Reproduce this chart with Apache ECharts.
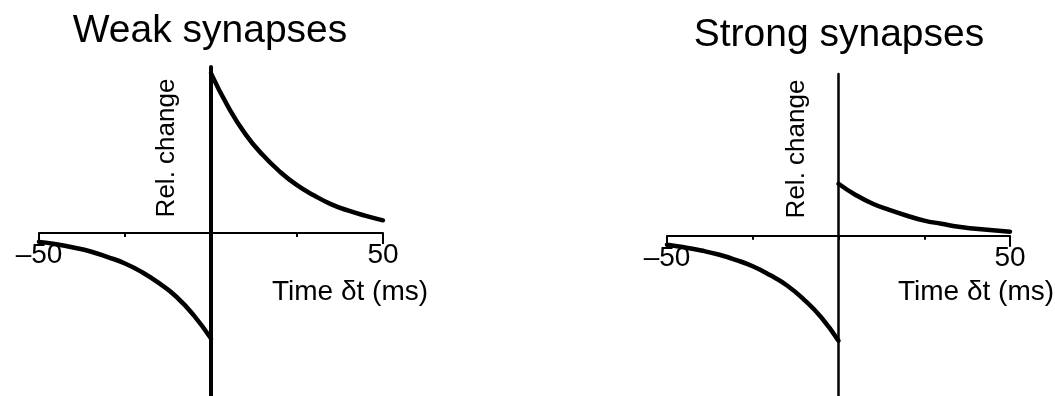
<!DOCTYPE html>
<html>
<head>
<meta charset="utf-8">
<script src="https://cdn.jsdelivr.net/npm/echarts@6/dist/echarts.min.js"></script>
<style>
html,body{margin:0;padding:0;background:#fff}
#main{width:1055px;height:396px}
</style>
</head>
<body>
<div id="main"></div>
<script>
// spike timing dt (ms)
var dtPre = [-50, -45, -40, -35, -30, -25, -20, -15, -10, -5, 0];
var dtPost = [0, 5, 10, 15, 20, 25, 30, 35, 40, 45, 50];

// relative change (1 = weak LTP peak)
var weakDep = [-0.055, -0.07, -0.09, -0.115, -0.15, -0.19, -0.245, -0.315, -0.40, -0.515, -0.66];
var weakPot = [1.0, 0.79, 0.62, 0.49, 0.385, 0.30, 0.235, 0.18, 0.14, 0.108, 0.08];
var strongDep = [-0.056, -0.072, -0.092, -0.117, -0.15, -0.19, -0.245, -0.31, -0.40, -0.51, -0.655];
var strongPot = [0.325, 0.255, 0.20, 0.16, 0.125, 0.095, 0.075, 0.056, 0.044, 0.034, 0.026];

var panelTitles = ['Weak synapses', 'Strong synapses'];
var xTickValues = [-50, 50];
var xTickLabels = ['\u201350', '50'];
var yName = 'Rel. change';
var xName = 'Time \u03b4t (ms)';

var FONT = '"Liberation Sans", Arial, Helvetica, sans-serif';
var H = 396;

function zip(xs, ys) {
    var out = [];
    for (var i = 0; i < xs.length; i++) out.push([xs[i], ys[i]]);
    return out;
}

// layout of the two panels
var panels = [
    {left: 39, width: 344, top: 67, ymin: -1.02, ymax: 1.04, vWidth: 4, dep: weakDep, pot: weakPot,
     titleX: 210, titleY: 12, yNameX: 167, yNameY: 148, xNameX: 272},
    {left: 667, width: 343, top: 74, ymin: -1.0, ymax: 1.01, vWidth: 2.5, dep: strongDep, pot: strongPot,
     titleX: 839, titleY: 16, yNameX: 797, yNameY: 149, xNameX: 898}
];

var grid = [], xAxis = [], yAxis = [], series = [], graphic = [];

panels.forEach(function (p, i) {
    var plotH = H - p.top;
    var zeroY = p.top + plotH * p.ymax / (p.ymax - p.ymin);
    var g = grid.length;
    // full plot area: curves, vertical axis, time axis line at zero
    grid.push({left: p.left, width: p.width, top: p.top, bottom: 0, outerBoundsMode: 'none'});
    // upper part, its bottom edge sits on zero: carries ticks and tick labels
    grid.push({left: p.left, width: p.width, top: p.top, bottom: H - zeroY, outerBoundsMode: 'none'});

    var xMain = xAxis.length;
    xAxis.push({
        type: 'value', gridIndex: g, min: -50, max: 50, interval: 25,
        axisLine: {onZero: true, lineStyle: {color: '#000', width: 2}},
        axisTick: {show: false},
        axisLabel: {show: false},
        splitLine: {show: false}
    });
    xAxis.push({
        type: 'value', gridIndex: g + 1, position: 'bottom', min: -50, max: 50, interval: 25,
        axisLine: {show: false, onZero: false},
        axisTick: {show: true, length: 4, lineStyle: {color: '#000', width: 2}},
        axisLabel: {
            margin: 8, color: '#000', fontSize: 28, fontFamily: FONT,
            formatter: function (v) {
                var k = xTickValues.indexOf(v);
                return k < 0 ? '' : xTickLabels[k];
            }
        },
        splitLine: {show: false}
    });
    // long end ticks at -50 / 50
    xAxis.push({
        type: 'value', gridIndex: g + 1, position: 'bottom', min: -50, max: 50, interval: 100,
        axisLine: {show: false, onZero: false},
        axisTick: {show: true, length: 11, lineStyle: {color: '#000', width: 2}},
        axisLabel: {show: false},
        splitLine: {show: false}
    });

    var yMain = yAxis.length;
    yAxis.push({
        type: 'value', gridIndex: g, min: p.ymin, max: p.ymax,
        axisLine: {show: true, onZero: true, lineStyle: {color: '#000', width: p.vWidth}},
        axisTick: {show: false},
        axisLabel: {show: false},
        splitLine: {show: false}
    });
    yAxis.push({
        type: 'value', gridIndex: g + 1, min: 0, max: p.ymax, show: false
    });

    [p.dep, p.pot].forEach(function (vals, j) {
        series.push({
            type: 'line',
            xAxisIndex: xMain, yAxisIndex: yMain,
            data: zip(j === 0 ? dtPre : dtPost, vals),
            smooth: 0.5,
            showSymbol: false,
            clip: false,
            lineStyle: {color: '#000', width: 4.5, cap: 'round'},
            z: 3
        });
    });

    graphic.push({
        type: 'text', x: p.titleX, y: p.titleY,
        style: {text: panelTitles[i], font: '39px ' + FONT, fill: '#000', align: 'center', verticalAlign: 'top'}
    });
    graphic.push({
        type: 'text', x: p.yNameX, y: p.yNameY, rotation: Math.PI / 2,
        style: {text: yName, font: '26px ' + FONT, fill: '#000', align: 'center', verticalAlign: 'middle'}
    });
    graphic.push({
        type: 'text', x: p.xNameX, y: 278,
        style: {text: xName, font: '28px ' + FONT, fill: '#000', align: 'left', verticalAlign: 'top'}
    });
});

var myChart = echarts.init(document.getElementById('main'));
myChart.setOption({
    backgroundColor: '#fff',
    animation: false,
    grid: grid,
    xAxis: xAxis,
    yAxis: yAxis,
    series: series,
    graphic: graphic
});
</script>
</body>
</html>
